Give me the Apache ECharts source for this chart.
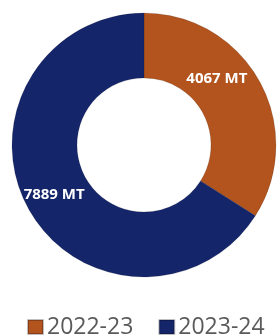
<!DOCTYPE html>
<html><head><meta charset="utf-8">
<script src="https://cdn.jsdelivr.net/npm/echarts@6/dist/echarts.min.js"></script>
<style>html,body{margin:0;padding:0;background:#fff}#c{width:279px;height:336px}</style>
</head><body><div id="c"></div>
<script>
const categories = ['2022-23', '2023-24'];
const values = [4067, 7889];
const labels = ['4067 MT', '7889 MT'];
const colors = ['#B3541E', '#15256A'];

const chart = echarts.init(document.getElementById('c'), null, {renderer: 'canvas'});
chart.setOption({
  animation: false,
  color: colors,
  legend: {
    data: categories,
    left: 22,
    top: 310,
    icon: 'rect',
    itemWidth: 15,
    itemHeight: 14,
    itemGap: 25,
    textStyle: {fontFamily: 'Open Sans', fontSize: 23, color: '#5a5a5a', padding: [0, 0, 0, -1], lineHeight: 24}
  },
  series: [{
    type: 'pie',
    center: [144, 145],
    radius: [67, 132],
    startAngle: 90,
    clockwise: true,
    avoidLabelOverlap: false,
    itemStyle: {borderColor: 'rgba(0,0,0,0.25)', borderWidth: 0.5},
    label: {
      show: true,
      position: 'inside',
      color: '#fff',
      fontFamily: 'Open Sans',
      fontWeight: 'bold',
      fontSize: 15,
      formatter: p => labels[p.dataIndex]
    },
    labelLine: {show: false},
    data: categories.map((c, i) => ({
      name: c,
      value: values[i],
      label: i === 0 ? {offset: [-17, -17]} : {}
    }))
  }]
});
</script></body></html>
